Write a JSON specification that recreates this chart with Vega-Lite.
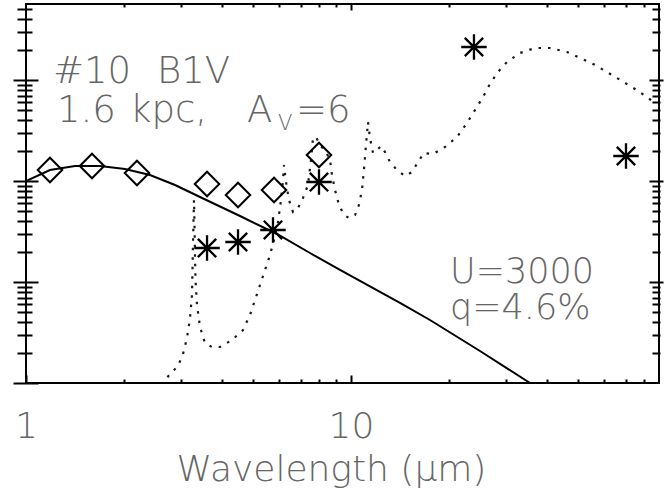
{
  "$schema": "https://vega.github.io/schema/vega-lite/v6.json",
  "width": 633,
  "height": 379,
  "autosize": "none",
  "padding": {"left": 26, "top": 4, "right": 7, "bottom": 117},
  "background": "white",
  "config": {
    "view": {"stroke": "black", "strokeWidth": 2},
    "axis": {"domain": false, "grid": false, "tickColor": "black", "tickWidth": 2, "labels": false},
    "text": {"font": "DejaVu Sans", "fontWeight": 200, "color": "#666", "align": "left", "baseline": "alphabetic"}
  },
  "datasets": {
    "model": [
      {"lam": 2.621, "flux": 0.7606}, {"lam": 2.677, "flux": 1.071}, {"lam": 2.813, "flux": 1.285}, {"lam": 2.936, "flux": 1.473},
      {"lam": 3.041, "flux": 1.937}, {"lam": 3.129, "flux": 2.790}, {"lam": 3.196, "flux": 4.401}, {"lam": 3.242, "flux": 7.435},
      {"lam": 3.253, "flux": 13.15}, {"lam": 3.264, "flux": 23.25}, {"lam": 3.276, "flux": 39.27}, {"lam": 3.288, "flux": 64.84},
      {"lam": 3.300, "flux": 36.68}, {"lam": 3.311, "flux": 18.51}, {"lam": 3.323, "flux": 10.47}, {"lam": 3.359, "flux": 5.920},
      {"lam": 3.431, "flux": 3.585}, {"lam": 3.555, "flux": 2.489}, {"lam": 3.735, "flux": 2.272}, {"lam": 3.953, "flux": 2.272},
      {"lam": 4.303, "flux": 2.665}, {"lam": 4.653, "flux": 3.348}, {"lam": 4.889, "flux": 4.713}, {"lam": 5.066, "flux": 6.634},
      {"lam": 5.248, "flux": 9.339}, {"lam": 5.437, "flux": 13.15}, {"lam": 5.634, "flux": 18.51}, {"lam": 5.796, "flux": 26.05},
      {"lam": 5.962, "flux": 39.27}, {"lam": 6.090, "flux": 64.84}, {"lam": 6.177, "flux": 102.3}, {"lam": 6.220, "flux": 144.0},
      {"lam": 6.310, "flux": 97.75}, {"lam": 6.445, "flux": 64.84}, {"lam": 6.630, "flux": 49.33}, {"lam": 6.869, "flux": 54.04},
      {"lam": 7.117, "flux": 67.87}, {"lam": 7.374, "flux": 91.29}, {"lam": 7.532, "flux": 161.4}, {"lam": 7.640, "flux": 266.5},
      {"lam": 7.804, "flux": 272.7}, {"lam": 8.028, "flux": 227.2}, {"lam": 8.377, "flux": 193.7}, {"lam": 8.618, "flux": 161.4},
      {"lam": 8.740, "flux": 114.7}, {"lam": 8.929, "flux": 81.45}, {"lam": 9.185, "flux": 57.86}, {"lam": 9.517, "flux": 46.07},
      {"lam": 9.858, "flux": 43.02}, {"lam": 10.29, "flux": 46.07}, {"lam": 10.58, "flux": 57.86}, {"lam": 10.81, "flux": 81.45},
      {"lam": 10.96, "flux": 128.5}, {"lam": 11.12, "flux": 227.2}, {"lam": 11.28, "flux": 383.9}, {"lam": 11.44, "flux": 266.5},
      {"lam": 11.69, "flux": 189.3}, {"lam": 12.02, "flux": 202.7}, {"lam": 12.37, "flux": 222.1}, {"lam": 12.72, "flux": 193.7},
      {"lam": 13.18, "flux": 154.2}, {"lam": 13.85, "flux": 128.5}, {"lam": 14.66, "flux": 112.1}, {"lam": 15.41, "flux": 122.8},
      {"lam": 16.08, "flux": 154.2}, {"lam": 16.77, "flux": 189.3}, {"lam": 17.88, "flux": 185.1}, {"lam": 19.46, "flux": 217.1},
      {"lam": 21.19, "flux": 272.7}, {"lam": 22.75, "flux": 375.2}, {"lam": 24.07, "flux": 504.7}, {"lam": 25.48, "flux": 678.7},
      {"lam": 26.77, "flux": 912.9}, {"lam": 28.33, "flux": 1200}, {"lam": 30.20, "flux": 1507}, {"lam": 33.11, "flux": 1851},
      {"lam": 36.83, "flux": 2074}, {"lam": 40.95, "flux": 2074}, {"lam": 46.20, "flux": 1893}, {"lam": 50.65, "flux": 1651},
      {"lam": 56.34, "flux": 1408}, {"lam": 61.33, "flux": 1200}, {"lam": 68.20, "flux": 977.5}, {"lam": 74.78, "flux": 814.5},
      {"lam": 81.43, "flux": 678.7}, {"lam": 84.37, "flux": 619.6}
    ],
    "photosphere": [
      {"lam": 1.000, "flux": 100.0}, {"lam": 1.185, "flux": 128.5}, {"lam": 1.415, "flux": 140.8}, {"lam": 1.689, "flux": 140.8},
      {"lam": 2.017, "flux": 131.5}, {"lam": 2.407, "flux": 114.7}, {"lam": 2.874, "flux": 91.29}, {"lam": 3.431, "flux": 69.44},
      {"lam": 4.555, "flux": 45.03}, {"lam": 5.920, "flux": 29.87}, {"lam": 7.478, "flux": 19.37}, {"lam": 9.251, "flux": 13.15},
      {"lam": 14.15, "flux": 6.196}, {"lam": 17.50, "flux": 4.205}, {"lam": 24.94, "flux": 2.074}, {"lam": 35.55, "flux": 1.0},
      {"lam": 44.0, "flux": 0.65}
    ],
    "dereddened": [
      {"lam": 1.185, "flux": 128.5}, {"lam": 1.596, "flux": 140.8}, {"lam": 2.195, "flux": 120.0}, {"lam": 3.606, "flux": 93.4},
      {"lam": 4.491, "flux": 72.7}, {"lam": 5.796, "flux": 81.45}, {"lam": 7.971, "flux": 180.9}
    ],
    "observed": [
      {"lam": 3.606, "flux": 21.71}, {"lam": 4.491, "flux": 24.89}, {"lam": 5.754, "flux": 32.73}, {"lam": 7.971, "flux": 97.7},
      {"lam": 23.90, "flux": 2122}, {"lam": 70.17, "flux": 176.8}
    ]
  },
  "layer": [
    {
      "data": {"name": "model"},
      "mark": {"type": "line", "stroke": "#1a1a1a", "strokeWidth": 2.2, "strokeDash": [2.5, 7], "clip": true},
      "encoding": {
        "x": {"field": "lam", "type": "quantitative", "scale": {"type": "log", "domain": [1, 88.66], "nice": false},
          "axis": {"orient": "bottom", "values": [2,3,4,5,6,7,8,9,20,30,40,50,60,70,80], "offset": -4, "tickSize": 4, "labels": false, "title": null}},
        "y": {"field": "flux", "type": "quantitative", "scale": {"type": "log", "domain": [1, 5655], "nice": false},
          "axis": {"orient": "left", "values": [2,3,4,5,6,7,8,9,20,30,40,50,60,70,80,90,200,300,400,500,600,700,800,900,2000,3000,4000,5000], "offset": -6, "tickSize": 15, "labels": false, "title": null}}
      }
    },
    {
      "data": {"name": "photosphere"},
      "mark": {"type": "line", "color": "black", "strokeWidth": 2, "clip": true},
      "encoding": {
        "x": {"field": "lam", "type": "quantitative", "scale": {"type": "log", "domain": [1, 88.66], "nice": false},
          "axis": {"orient": "bottom", "values": [1, 10], "offset": -8, "tickSize": 8, "labels": true, "format": "~g",
            "labelFont": "DejaVu Sans", "labelFontWeight": 200, "labelFontSize": 36, "labelColor": "#666",
            "labelPadding": 26, "labelFlush": false, "labelOverlap": false,
            "title": "Wavelength (μm)", "titleFont": "DejaVu Sans", "titleFontWeight": 200, "titleFontSize": 36, "titleColor": "#666",
            "titleX": 305, "titleY": 105, "titleAlign": "center", "titleBaseline": "alphabetic"}},
        "y": {"field": "flux", "type": "quantitative", "scale": {"type": "log", "domain": [1, 5655], "nice": false},
          "axis": {"orient": "left", "values": [1, 10, 100, 1000], "offset": -12, "tickSize": 25, "labels": false, "title": null}}
      }
    },
    {
      "data": {"name": "dereddened"},
      "mark": {"type": "point", "shape": "diamond", "filled": false, "stroke": "black", "strokeWidth": 2, "size": 600, "opacity": 1},
      "encoding": {
        "x": {"field": "lam", "type": "quantitative", "scale": {"type": "log", "domain": [1, 88.66], "nice": false},
          "axis": {"orient": "top", "values": [2,3,4,5,6,7,8,9,20,30,40,50,60,70,80], "offset": -3, "tickSize": 3, "labels": false, "title": null}},
        "y": {"field": "flux", "type": "quantitative", "scale": {"type": "log", "domain": [1, 5655], "nice": false},
          "axis": {"orient": "right", "values": [2,3,4,5,6,7,8,9,20,30,40,50,60,70,80,90,200,300,400,500,600,700,800,900,2000,3000,4000,5000], "offset": -7, "tickSize": 8, "labels": false, "title": null}}
      }
    },
    {
      "data": {"name": "observed"},
      "mark": {"type": "point", "shape": "M-1,0L1,0M0,-1L0,1M-0.72,-0.72L0.72,0.72M-0.72,0.72L0.72,-0.72", "filled": false, "stroke": "black", "strokeWidth": 2.3, "size": 650, "opacity": 1},
      "encoding": {
        "x": {"field": "lam", "type": "quantitative", "scale": {"type": "log", "domain": [1, 88.66], "nice": false},
          "axis": {"orient": "top", "values": [10], "offset": -6, "tickSize": 6, "labels": false, "title": null}},
        "y": {"field": "flux", "type": "quantitative", "scale": {"type": "log", "domain": [1, 5655], "nice": false},
          "axis": {"orient": "right", "values": [10, 100, 1000], "offset": -10, "tickSize": 14, "labels": false, "title": null}}
      }
    },
    {
      "data": {"values": [{}]},
      "mark": {"type": "text", "text": "#10", "fontSize": 37},
      "encoding": {
        "x": {"datum": 1.211, "type": "quantitative", "scale": {"type": "log", "domain": [1, 88.66], "nice": false}, "axis": null},
        "y": {"datum": 933.9, "type": "quantitative", "scale": {"type": "log", "domain": [1, 5655], "nice": false}, "axis": null}
      }
    },
    {
      "data": {"values": [{}]},
      "mark": {"type": "text", "text": "B1V", "fontSize": 37},
      "encoding": {
        "x": {"datum": 2.53, "type": "quantitative", "scale": {"type": "log", "domain": [1, 88.66], "nice": false}, "axis": null},
        "y": {"datum": 933.9, "type": "quantitative", "scale": {"type": "log", "domain": [1, 5655], "nice": false}, "axis": null}
      }
    },
    {
      "data": {"values": [{}]},
      "mark": {"type": "text", "text": "1.6", "fontSize": 37},
      "encoding": {
        "x": {"datum": 1.2457, "type": "quantitative", "scale": {"type": "log", "domain": [1, 88.66], "nice": false}, "axis": null},
        "y": {"datum": 383.9, "type": "quantitative", "scale": {"type": "log", "domain": [1, 5655], "nice": false}, "axis": null}
      }
    },
    {
      "data": {"values": [{}]},
      "mark": {"type": "text", "text": "kpc,", "fontSize": 37},
      "encoding": {
        "x": {"datum": 2.089, "type": "quantitative", "scale": {"type": "log", "domain": [1, 88.66], "nice": false}, "axis": null},
        "y": {"datum": 383.9, "type": "quantitative", "scale": {"type": "log", "domain": [1, 5655], "nice": false}, "axis": null}
      }
    },
    {
      "data": {"values": [{}]},
      "mark": {"type": "text", "text": "A", "fontSize": 37},
      "encoding": {
        "x": {"datum": 4.786, "type": "quantitative", "scale": {"type": "log", "domain": [1, 88.66], "nice": false}, "axis": null},
        "y": {"datum": 383.9, "type": "quantitative", "scale": {"type": "log", "domain": [1, 5655], "nice": false}, "axis": null}
      }
    },
    {
      "data": {"values": [{}]},
      "mark": {"type": "text", "text": "V", "fontSize": 21},
      "encoding": {
        "x": {"datum": 5.963, "type": "quantitative", "scale": {"type": "log", "domain": [1, 88.66], "nice": false}, "axis": null},
        "y": {"datum": 319.9, "type": "quantitative", "scale": {"type": "log", "domain": [1, 5655], "nice": false}, "axis": null}
      }
    },
    {
      "data": {"values": [{}]},
      "mark": {"type": "text", "text": "=6", "fontSize": 37},
      "encoding": {
        "x": {"datum": 6.773, "type": "quantitative", "scale": {"type": "log", "domain": [1, 88.66], "nice": false}, "axis": null},
        "y": {"datum": 383.9, "type": "quantitative", "scale": {"type": "log", "domain": [1, 5655], "nice": false}, "axis": null}
      }
    },
    {
      "data": {"values": [{}]},
      "mark": {"type": "text", "text": ["U=3000", "q=4.6%"], "fontSize": 35, "lineHeight": 36},
      "encoding": {
        "x": {"datum": 20.17, "type": "quantitative", "scale": {"type": "log", "domain": [1, 88.66], "nice": false}, "axis": null},
        "y": {"datum": 9.772, "type": "quantitative", "scale": {"type": "log", "domain": [1, 5655], "nice": false}, "axis": null}
      }
    }
  ],
  "resolve": {"axis": {"x": "independent", "y": "independent"}}
}
